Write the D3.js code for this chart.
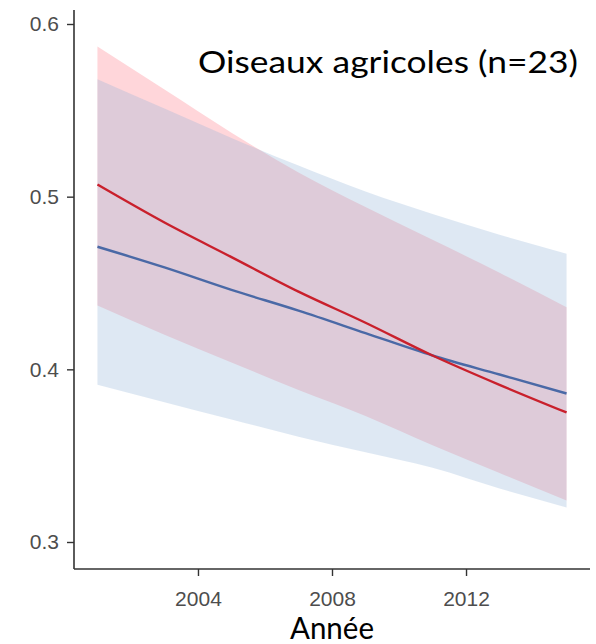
<!DOCTYPE html>
<html>
<head>
<meta charset="utf-8">
<script src="https://cdn.jsdelivr.net/npm/d3@7"></script>
<style>
  html, body { margin: 0; padding: 0; background: #fff; }
  svg { display: block; }
</style>
</head>
<body>
<svg id="chart" width="596" height="644"></svg>
<script>
// Years at which the fitted trends are drawn
const years = [2001, 2003, 2005, 2007, 2009, 2011, 2013, 2015];

// Red series: fitted trend and its confidence band
const redFit   = [0.507, 0.485, 0.465, 0.445, 0.427, 0.408, 0.391, 0.375];
const redUpper = [0.587, 0.562, 0.537, 0.514, 0.494, 0.475, 0.456, 0.436];
const redLower = [0.437, 0.420, 0.404, 0.388, 0.373, 0.356, 0.340, 0.324];

// Blue series: fitted trend and its confidence band
const blueFit   = [0.471, 0.459, 0.446, 0.434, 0.421, 0.408, 0.397, 0.386];
const blueUpper = [0.568, 0.551, 0.534, 0.518, 0.503, 0.490, 0.478, 0.467];
const blueLower = [0.391, 0.381, 0.371, 0.361, 0.352, 0.343, 0.331, 0.320];

// Axis ticks
const xTicks = [2004, 2008, 2012];
const yTicks = [0.3, 0.4, 0.5, 0.6];

const titleText = "Oiseaux agricoles (n=23)";
const xTitle = "Année";

const svg = d3.select("#chart");

const x = d3.scaleLinear().domain([2000.3, 2015.7]).range([74, 590]);
const y = d3.scaleLinear().domain([0.3, 0.6]).range([542, 24]);

const rows = (fit, lo, hi) => years.map((yr, i) => ({ yr, fit: fit[i], lo: lo[i], hi: hi[i] }));
const red = rows(redFit, redLower, redUpper);
const blue = rows(blueFit, blueLower, blueUpper);

const area = d3.area()
  .x(d => x(d.yr))
  .y0(d => y(d.lo))
  .y1(d => y(d.hi))
  .curve(d3.curveMonotoneX);

const line = d3.line()
  .x(d => x(d.yr))
  .y(d => y(d.fit))
  .curve(d3.curveMonotoneX);

// Confidence bands (blue on top of red)
svg.append("path").datum(red).attr("d", area)
  .attr("fill", "rgb(255,50,70)").attr("fill-opacity", 0.2);
svg.append("path").datum(blue).attr("d", area)
  .attr("fill", "rgb(145,178,215)").attr("fill-opacity", 0.3);

// Fitted trends
svg.append("path").datum(blue).attr("d", line)
  .attr("fill", "none").attr("stroke", "#4a69a6").attr("stroke-width", 2.4);
svg.append("path").datum(red).attr("d", line)
  .attr("fill", "none").attr("stroke", "#c9202c").attr("stroke-width", 2.4);

// Axes
const yAxis = d3.axisLeft(y).tickValues(yTicks).tickFormat(d3.format(".1f"))
  .tickSize(7).tickPadding(8).tickSizeOuter(0);
const xAxis = d3.axisBottom(x).tickValues(xTicks).tickFormat(d3.format("d"))
  .tickSize(7).tickPadding(15).tickSizeOuter(0);

const gy = svg.append("g").attr("transform", "translate(74,0)").call(yAxis);
const gx = svg.append("g").attr("transform", "translate(0,569)").call(xAxis);

gy.select(".domain").attr("d", "M0,10V569");
gx.select(".domain").attr("d", "M74,0H590");

[gx, gy].forEach(g => {
  g.select(".domain").attr("stroke", "#333").attr("stroke-width", 1.6);
  g.selectAll(".tick line").attr("stroke", "#333").attr("stroke-width", 1.4);
  g.selectAll(".tick text")
    .attr("fill", "#4d4d4d")
    .style("font-family", "'Liberation Sans', Arial, sans-serif")
    .style("font-size", "21px");
});

// Panel title
svg.append("text")
  .attr("x", 198).attr("y", 73)
  .attr("textLength", 380).attr("lengthAdjust", "spacingAndGlyphs")
  .style("font-family", "Lato, 'Noto Sans', sans-serif")
  .style("font-size", "31px")
  .attr("fill", "#000")
  .text(titleText);

// X axis title, centred on the panel
svg.append("text")
  .attr("x", 332).attr("y", 639)
  .attr("text-anchor", "middle")
  .attr("textLength", 84).attr("lengthAdjust", "spacingAndGlyphs")
  .style("font-family", "Lato, 'Noto Sans', sans-serif")
  .style("font-size", "30px")
  .attr("fill", "#000")
  .text(xTitle);
</script>
</body>
</html>
